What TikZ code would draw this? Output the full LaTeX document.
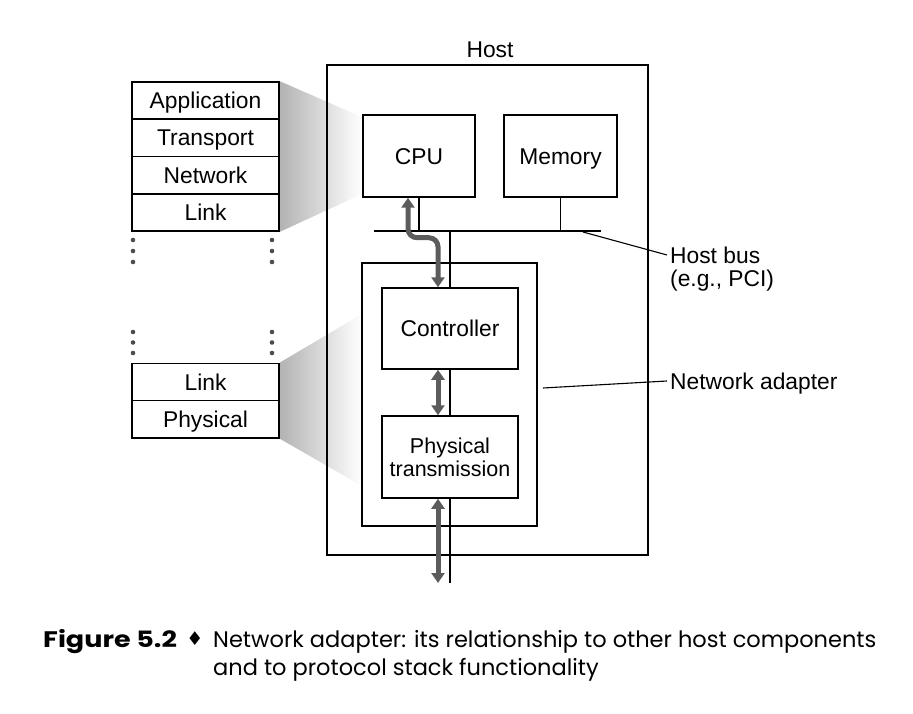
\documentclass[tikz,border=0pt]{standalone}
\usepackage{fontspec}
\setmainfont{Liberation Sans}
\newfontfamily\capfont{Poppins}
\newfontfamily\symfont{DejaVu Sans}
\usetikzlibrary{arrows.meta,calc,backgrounds}
\begin{document}
\begin{tikzpicture}[x=1pt,y=-1pt,
  lbl/.style={inner sep=0pt, font=\fontsize{22.8}{25}\selectfont, text height=16.2pt, text depth=0pt},
  box/.style={draw, line width=1.5pt, inner sep=0pt, font=\fontsize{22.8}{25}\selectfont, align=center},
  onebox/.style={box, text height=16.2pt, text depth=0pt},
  layer/.style={onebox, minimum width=147pt, minimum height=37.3pt},
  wire/.style={line width=1.6pt},
  leader/.style={line width=1.1pt},
  garrow/.style={{Triangle[width=13pt,length=10pt]}-{Triangle[width=13pt,length=10pt]}, line width=5pt, draw=black!64},
  fan/.style={left color=black!30, right color=white},
  dotc/.style={fill=black!70},
  captext/.style={anchor=base west, inner sep=0pt, font=\capfont\fontsize{22.5}{26}\selectfont}
]
\useasboundingbox (0,0) rectangle (913,714);
% upper protocol stack
\node[layer] (app) at (205.5,100.6) {Application};
\node[layer] (trans) at (205.5,137.9) {Transport};
\node[layer] (net) at (205.5,175.2) {Network};
\node[layer] (linka) at (205.5,212.5) {Link};
% lower protocol stack
\node[layer] (linkb) at (205.5,382) {Link};
\node[layer] (phy) at (205.5,419.3) {Physical};
% fans
\begin{scope}[on background layer]
\shade[fan] (app.north east) -- (362,117) -- (362,194) -- (linka.south east) -- cycle;
\shade[fan] (linkb.north east) -- (362,314) -- (362,486) -- (phy.south east) -- cycle;
\end{scope}
% dots
\foreach \yy in {240,251,262,332,342.5,353}{
  \fill[dotc] (133,\yy) circle (2.3);
  \fill[dotc] (272,\yy) circle (2.3);
}
% host
\node[box, minimum width=321pt, minimum height=490pt] (host) at (487.5,310) {};
\node[lbl] (hostlbl) at (490,49) {Host};
\node[onebox, minimum width=112pt, minimum height=82pt] (cpu) at (419,156) {CPU};
\node[onebox, minimum width=113pt, minimum height=82pt] (mem) at (560.5,156) {Memory};
\node[box, minimum width=175pt, minimum height=263pt] (adapter) at (449.5,394.5) {};
\node[onebox, minimum width=136pt, minimum height=81pt] (ctrl) at (450,328.5) {Controller};
\node[box, minimum width=136pt, minimum height=82pt, font=\fontsize{21.5}{24}\selectfont] (phys) at (450,457) {Physical\\[-1pt]transmission};
% bus
\coordinate (busL) at (374,231);
\coordinate (busR) at (601,231);
\draw[wire] (busL) -- (busR);
\draw[wire] (cpu.south) -- (cpu.south |- busL);
\draw[wire] (mem.south) -- (mem.south |- busL);
\draw[wire] (ctrl.north |- busL) -- (ctrl.north);
\draw[wire] (ctrl.south) -- (phys.north);
\coordinate (netend) at (450,583);
\draw[wire] (phys.south) -- (netend);
% gray arrows
\draw[garrow, rounded corners=9pt] ([xshift=-11pt]cpu.south) -- ++(0,40) -| ([xshift=-12pt]ctrl.north);
\draw[garrow] ([xshift=-12pt]ctrl.south) -- ([xshift=-12pt]phys.north);
\draw[garrow] ([xshift=-12pt]phys.south) -- ([xshift=-12pt]netend);
% labels
\node[lbl, anchor=west, inner sep=3pt] (hb1) at (667,255) {Host bus};
\node[lbl, anchor=west, inner sep=3pt] (hb2) at (667,278) {(e.g., PCI)};
\node[lbl, anchor=west, inner sep=3pt] (na) at (667,381) {Network adapter};
\coordinate (busp) at (583,232);
\coordinate (nap) at (543,388);
\draw[leader] (busp) -- (hb1.west);
\draw[leader] (nap) -- (na.west);
% caption
\node[captext, xscale=1.2] (fig) at (43,647) {\bfseries Figure 5.2};
\node[inner sep=0pt, font=\symfont\fontsize{19}{19}\selectfont] (dia) at (195,639) {♦};
\node[captext] (cap1) at (213,647) {Network adapter: its relationship to other host components};
\node[captext] (cap2) at (213,675) {and to protocol stack functionality};
\end{tikzpicture}
\end{document}
